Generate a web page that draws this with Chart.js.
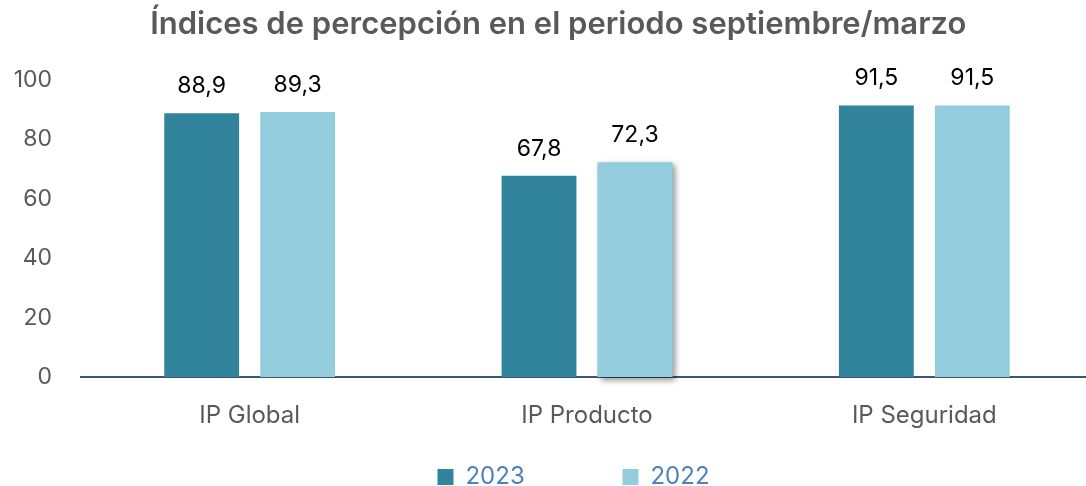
<!DOCTYPE html>
<html>
<head>
<meta charset="utf-8">
<script src="https://cdn.jsdelivr.net/npm/chart.js@4"></script>
<style>
  body { margin: 0; background: #fff; overflow: hidden; }
  #wrap { width: 1093px; height: 486px; }
</style>
</head>
<body>
<div id="wrap"><canvas id="myChart"></canvas></div>
<script>
const categories = ['IP Global', 'IP Producto', 'IP Seguridad'];
const seriesNames = ['2023', '2022'];
const values2023 = [88.9, 67.8, 91.5];
const values2022 = [89.3, 72.3, 91.5];
const yTicks = [0, 20, 40, 60, 80, 100];

const FONT = 'Inter, "Open Sans", sans-serif';

// writes the value above each bar, with a comma as decimal sign
const barLabels = {
  id: 'barLabels',
  afterDatasetsDraw(chart) {
    const ctx = chart.ctx;
    ctx.save();
    ctx.font = '23px ' + FONT;
    ctx.fillStyle = '#000';
    ctx.textAlign = 'center';
    ctx.textBaseline = 'middle';
    chart.data.datasets.forEach((ds, i) => {
      chart.getDatasetMeta(i).data.forEach((bar, j) => {
        ctx.fillText(ds.data[j].toFixed(1).replace('.', ','), bar.x, bar.y - 27);
      });
    });
    ctx.restore();
  }
};

// the original has a soft drop shadow behind the 2022 "IP Producto" bar
const barShadow = {
  id: 'barShadow',
  beforeDatasetsDraw(chart) {
    const bar = chart.getDatasetMeta(1).data[1];
    const ctx = chart.ctx;
    ctx.save();
    ctx.shadowColor = 'rgba(0,0,0,0.45)';
    ctx.shadowBlur = 6;
    ctx.shadowOffsetX = 3;
    ctx.shadowOffsetY = 3;
    ctx.fillStyle = '#93cddd';
    ctx.fillRect(bar.x - bar.width / 2, bar.y, bar.width, bar.base - bar.y);
    ctx.restore();
  }
};

const ctx = document.getElementById('myChart').getContext('2d');
const chart = new Chart(ctx, {
  type: 'bar',
  data: {
    labels: categories,
    datasets: [
      { label: seriesNames[0], data: values2023, backgroundColor: '#31849b' },
      { label: seriesNames[1], data: values2022, backgroundColor: '#93cddd' }
    ]
  },
  options: {
    responsive: true,
    maintainAspectRatio: false,
    animation: false,
    datasets: { bar: { categoryPercentage: 0.569, barPercentage: 0.78 } },
    layout: { padding: { top: 0, right: 0, left: 0, bottom: -13 } },
    plugins: {
      title: {
        display: true,
        // leading spaces nudge the centred title right, as in the original
        text: '   Índices de percepción en el periodo septiembre/marzo',
        color: '#595959',
        font: { family: FONT, size: 31, weight: '600' },
        padding: { top: 6, bottom: 37 }
      },
      legend: {
        position: 'bottom',
        fullSize: false,
        labels: {
          color: '#4f81bd',
          font: { family: FONT, size: 24 },
          boxWidth: 16,
          boxHeight: 16,
          padding: 10,
          // trailing spaces only widen the items so they sit where the original ones do
          generateLabels: chart => {
            const items = Chart.defaults.plugins.legend.labels.generateLabels(chart);
            items[0].text += ' '.repeat(13);
            items[1].text += ' '.repeat(4);
            return items;
          }
        }
      },
      tooltip: { enabled: false }
    },
    scales: {
      x: {
        afterFit: axis => { axis.height = 78; },
        grid: { display: false, drawTicks: false },
        border: { color: '#3b5670', width: 2 },
        ticks: { color: '#595959', font: { family: FONT, size: 24 }, padding: 24 }
      },
      y: {
        min: 0,
        max: 100,
        afterBuildTicks: axis => { axis.ticks = yTicks.map(v => ({ value: v })); },
        afterFit: axis => { axis.width = 81; },
        grid: { display: false, drawTicks: false },
        border: { display: false },
        ticks: { color: '#595959', font: { family: FONT, size: 23 }, padding: 29 }
      }
    }
  },
  plugins: [barShadow, barLabels]
});
</script>
</body>
</html>
